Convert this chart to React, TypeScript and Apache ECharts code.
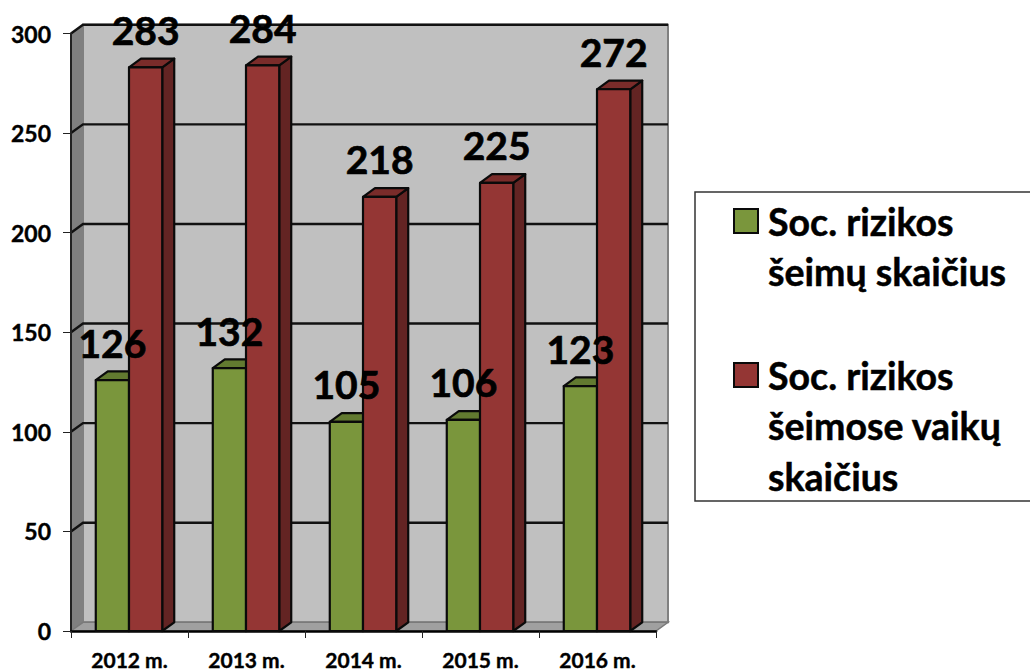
import React, { useEffect, useRef } from "react";
import * as echarts from "echarts";

const categories = ["2012 m.", "2013 m.", "2014 m.", "2015 m.", "2016 m."];
const familyCounts = [126, 132, 105, 106, 123];
const childCounts = [283, 284, 218, 225, 272];
const yTicks = [50, 100, 150, 200, 250, 300];
const seriesOneLines = ["Soc. rizikos", "šeimų skaičius"];
const seriesTwoLines = ["Soc. rizikos", "šeimose vaikų", "skaičius"];

const FONT = "Lato, 'Open Sans', sans-serif";
const DX = 12;
const DY = -8.7;
const BAR_FRACTION = 0.284;
const GROUP_SHIFT = -0.5;

const GREEN = { front: "#7a963c", side: "#4f6227", top: "#627a30" };
const RED = { front: "#943634", side: "#632423", top: "#7a2c2a" };

const wallsItem = (params: any) => {
  const c = params.coordSys;
  const l = c.x, r = c.x + c.width, t = c.y, b = c.y + c.height;
  return {
    type: "group",
    children: [
      { type: "rect", shape: { x: l + DX, y: t + DY, width: c.width, height: c.height }, style: { fill: "#c0c0c0", stroke: "#808080", lineWidth: 2 } },
      { type: "polygon", shape: { points: [[l, t], [l + DX, t + DY], [l + DX, b + DY], [l, b]] }, style: { fill: "#808080", stroke: "#808080", lineWidth: 1 } },
      { type: "polygon", shape: { points: [[l, b], [r, b], [r + DX, b + DY], [l + DX, b + DY]] }, style: { fill: "#a0a0a0", stroke: "#7a7a7a", lineWidth: 1.5 } },
    ],
  };
};

const gridLineItem = (params: any, api: any) => {
  const c = params.coordSys;
  const y = api.coord([0, api.value(0)])[1];
  return {
    type: "polyline",
    shape: { points: [[c.x, y], [c.x + DX, y + DY], [c.x + c.width + DX, y + DY]] },
    style: { fill: "none", stroke: "#111", lineWidth: 2.4 },
  };
};

const barItem = (colors: typeof GREEN, offset: number) => (_: any, api: any) => {
  const top = api.coord([api.value(0), api.value(1)]);
  const base = api.coord([api.value(0), 0]);
  const w = api.size([1, 0])[0] * BAR_FRACTION;
  const x = top[0] + offset * w + GROUP_SHIFT;
  const y = top[1];
  const line = { stroke: "#0a0a0a", lineWidth: 2.2, lineJoin: "round" };
  return {
    type: "group",
    children: [
      { type: "polygon", shape: { points: [[x + w, y], [x + w + DX, y + DY], [x + w + DX, base[1] + DY], [x + w, base[1]]] }, style: { fill: colors.side, ...line } },
      { type: "polygon", shape: { points: [[x, y], [x + DX, y + DY], [x + w + DX, y + DY], [x + w, y]] }, style: { fill: colors.top, ...line } },
      { type: "rect", shape: { x, y, width: w, height: base[1] - y }, style: { fill: colors.front, ...line } },
    ],
  };
};

const labelItem = (offset: number) => (_: any, api: any) => {
  const top = api.coord([api.value(0), api.value(1)]);
  const w = api.size([1, 0])[0] * BAR_FRACTION;
  return {
    type: "text",
    x: top[0] + offset * w + w / 2 + GROUP_SHIFT,
    y: top[1] - 37.5,
    style: {
      text: String(api.value(1)),
      fill: "#000",
      stroke: "#000",
      lineWidth: 0.7,
      font: `bold 39px ${FONT}`,
      textAlign: "center",
      textVerticalAlign: "middle",
    },
  };
};

const pairs = (values: number[]) => values.map((v, i) => [i, v]);

const legendBlock = (lines: string[], color: string, top: number) => ({
  type: "group",
  children: [
    { type: "rect", shape: { x: 734, y: top, width: 24, height: 24 }, style: { fill: color, stroke: "#0a0a0a", lineWidth: 2 } },
    ...lines.map((text, i) => ({
      type: "text",
      x: 768,
      y: top + 12 + i * 50.5,
      style: { text, fill: "#000", stroke: "#000", lineWidth: 0.5, font: `bold 37.5px ${FONT}`, textVerticalAlign: "middle" },
    })),
  ],
});

export default function App() {
  const ref = useRef<HTMLDivElement>(null);
  useEffect(() => {
    const chart = echarts.init(ref.current!, undefined, { renderer: "svg" });
    chart.setOption({
      animation: false,
      backgroundColor: "#fff",
      grid: { left: 71, top: 33.5, width: 585, height: 597.5, containLabel: false },
      xAxis: {
        type: "category",
        data: categories,
        boundaryGap: true,
        axisLine: { show: true, lineStyle: { color: "#000", width: 2.5 } },
        axisTick: { show: true, alignWithLabel: false, length: 7, lineStyle: { color: "#222", width: 1 } },
        axisLabel: { color: "#000", fontFamily: FONT, fontWeight: "bold", fontSize: 21, lineHeight: 20, margin: 18, interval: 0, textBorderColor: "#000", textBorderWidth: 0.4 },
        z: 3,
      },
      yAxis: {
        type: "value",
        min: 0,
        max: 300,
        interval: 50,
        splitLine: { show: false },
        axisLine: { show: true, lineStyle: { color: "#222", width: 2 } },
        axisTick: { show: true, length: 8, lineStyle: { color: "#222", width: 1 } },
        axisLabel: { color: "#000", fontFamily: FONT, fontWeight: "bold", fontSize: 23, margin: 20, textBorderColor: "#000", textBorderWidth: 0.4 },
        z: 3,
      },
      graphic: [
        { type: "rect", shape: { x: 695, y: 192, width: 345, height: 309 }, style: { fill: "#fff", stroke: "#333", lineWidth: 1.5 } },
        legendBlock(seriesOneLines, GREEN.front, 209),
        legendBlock(seriesTwoLines, RED.front, 363),
      ],
      series: [
        { type: "custom", name: "walls", silent: true, z: 1, data: [[0, 0]], renderItem: wallsItem },
        { type: "custom", name: "gridlines", silent: true, z: 2, data: yTicks.map((v) => [v]), encode: { y: 0 }, renderItem: gridLineItem },
        { type: "custom", name: "Soc. rizikos šeimų skaičius", z: 4, data: pairs(familyCounts), encode: { x: 0, y: 1 }, renderItem: barItem(GREEN, -1) },
        { type: "custom", name: "Soc. rizikos šeimose vaikų skaičius", z: 5, data: pairs(childCounts), encode: { x: 0, y: 1 }, renderItem: barItem(RED, 0) },
        { type: "custom", name: "family labels", silent: true, z: 6, data: pairs(familyCounts), encode: { x: 0, y: 1 }, renderItem: labelItem(-1) },
        { type: "custom", name: "child labels", silent: true, z: 6, data: pairs(childCounts), encode: { x: 0, y: 1 }, renderItem: labelItem(0) },
      ],
    });
    return () => chart.dispose();
  }, []);
  return <div ref={ref} style={{ position: "absolute", left: 0, top: 0, width: 1030, height: 671 }} />;
}
